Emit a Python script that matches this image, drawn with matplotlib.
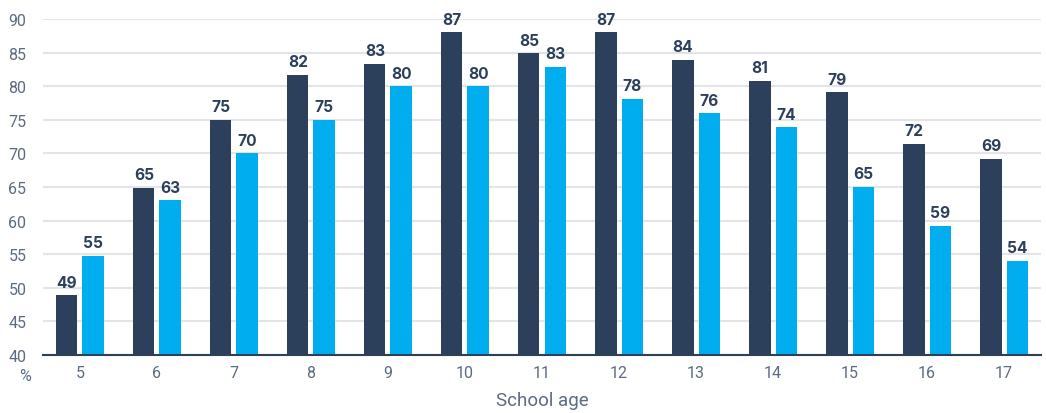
import matplotlib.pyplot as plt
import numpy as np

# school age groups
ages = [5, 6, 7, 8, 9, 10, 11, 12, 13, 14, 15, 16, 17]
# bar heights
dark_values = [48.9, 64.9, 75.0, 81.7, 83.3, 88.0, 84.9, 88.0, 83.9, 80.8, 79.1, 71.4, 69.2]
light_values = [54.8, 63.0, 70.0, 75.0, 80.0, 80.0, 82.9, 78.1, 76.0, 73.9, 65.0, 59.2, 54.0]
# printed labels above bars
dark_labels = ['49', '65', '75', '82', '83', '87', '85', '87', '84', '81', '79', '72', '69']
light_labels = ['55', '63', '70', '75', '80', '80', '83', '78', '76', '74', '65', '59', '54']
y_ticks = [40, 45, 50, 55, 60, 65, 70, 75, 80, 85, 90]

dark_color = '#2c3f5b'
light_color = '#00aeef'
tick_color = '#5b6b82'
grid_color = '#e2e4ea'

narrow = ['Liberation Sans Narrow', 'Roboto', 'DejaVu Sans']
bold_font = ['Inter', 'Liberation Sans', 'DejaVu Sans']

fig = plt.figure(figsize = (10.46, 4.14), dpi = 100)
ax = fig.add_axes([43 / 1046, 1 - 356 / 414, (1041 - 43) / 1046, (356 - 20) / 414])

x = np.array(ages, dtype = float)
width = 0.275
offset = 0.17

ax.bar(x - offset, [v - 40 for v in dark_values], width, bottom = 40, color = dark_color, zorder = 3)
ax.bar(x + offset, [v - 40 for v in light_values], width, bottom = 40, color = light_color, zorder = 3)

for i in range(len(ages)):
    ax.annotate(dark_labels[i], (x[i] - offset, dark_values[i]), xytext = (0, 4), textcoords = 'offset points',
                ha = 'center', va = 'bottom', fontsize = 11.2, fontweight = 'bold', color = dark_color, family = bold_font)
    ax.annotate(light_labels[i], (x[i] + offset, light_values[i]), xytext = (0, 4), textcoords = 'offset points',
                ha = 'center', va = 'bottom', fontsize = 11.2, fontweight = 'bold', color = dark_color, family = bold_font)

ax.set_xlim(4.52, 17.48)
ax.set_ylim(40, 90)
ax.set_yticks(y_ticks)
ax.set_xticks(ages)
ax.set_xticklabels([str(a) for a in ages], family = narrow, fontsize = 11.5, color = tick_color)
ax.set_yticklabels([str(t) for t in y_ticks], family = narrow, fontsize = 11.5, color = tick_color)
ax.tick_params(axis = 'both', length = 0)
ax.tick_params(axis = 'y', pad = 12)
ax.tick_params(axis = 'x', pad = 7)

ax.yaxis.grid(True, color = grid_color, linewidth = 1.5, zorder = 0)
for s in ['top', 'right', 'left']:
    ax.spines[s].set_visible(False)
ax.spines['bottom'].set_color(dark_color)
ax.spines['bottom'].set_linewidth(1.5)
ax.spines['bottom'].set_zorder(4)

fig.text(25 / 1046, 1 - 377 / 414, '%', ha = 'center', va = 'center', family = narrow, fontsize = 11.5, color = tick_color)
fig.text(542 / 1046, 1 - 401 / 414, 'School age', ha = 'center', va = 'center', family = ['Roboto', 'DejaVu Sans'],
         fontsize = 13.5, color = tick_color)

fig.savefig('out.png', dpi = 100)
